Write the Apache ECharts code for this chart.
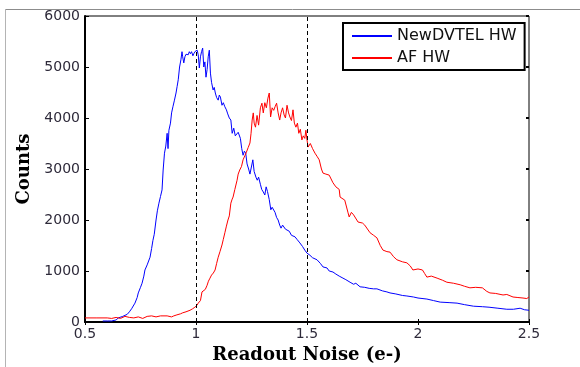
<!DOCTYPE html>
<html>
<head>
<meta charset="utf-8">
<script src="https://cdn.jsdelivr.net/npm/echarts@6/dist/echarts.min.js"></script>
<style>
	html, body { margin: 0; padding: 0; background: #fff; }
	#main { width: 580px; height: 367px; }
</style>
</head>
<body>
<div id="main"></div>
<script>
// readout noise histogram, [noise (e-), counts]
var newDvtel = [
	[0.58, 20], [0.6, 20], [0.62, 20], [0.64, 40], [0.65, 80], [0.67, 110], [0.69, 150], [0.70, 200],
	[0.71, 260], [0.725, 370], [0.735, 480], [0.74, 570], [0.75, 680], [0.757, 760], [0.765, 900],
	[0.77, 1020], [0.78, 1120], [0.793, 1270], [0.8, 1440], [0.806, 1600], [0.812, 1720], [0.82, 2000],
	[0.826, 2180], [0.833, 2330], [0.84, 2460], [0.847, 2590], [0.852, 2980], [0.858, 3310], [0.864, 3450],
	[0.87, 3700], [0.874, 3400], [0.878, 3760], [0.885, 3900], [0.89, 4100], [0.896, 4220], [0.903, 4350],
	[0.91, 4490], [0.915, 4620], [0.92, 4750], [0.926, 5000], [0.932, 5140], [0.937, 5300], [0.94, 5200],
	[0.945, 5080], [0.95, 5200], [0.955, 5250], [0.96, 5270], [0.965, 5240], [0.97, 5300], [0.975, 5260],
	[0.98, 5300], [0.986, 5220], [0.99, 5260], [0.995, 5300], [1.0, 5280], [1.005, 5330], [1.01, 5240],
	[1.015, 4980], [1.02, 5200], [1.025, 5300], [1.03, 5370], [1.035, 5000], [1.04, 5100], [1.045, 4800],
	[1.05, 4950], [1.055, 5200], [1.06, 5330], [1.065, 4880], [1.07, 4700], [1.077, 4550], [1.082, 4600],
	[1.087, 4490], [1.093, 4400], [1.1, 4350], [1.105, 4450], [1.11, 4410], [1.117, 4250], [1.123, 4300],
	[1.13, 4220], [1.137, 4160], [1.143, 4080], [1.15, 4000], [1.157, 3960], [1.163, 3700], [1.17, 3800],
	[1.177, 3650], [1.185, 3630], [1.19, 3720], [1.195, 3700], [1.2, 3600], [1.206, 3400], [1.212, 3270],
	[1.218, 3350], [1.224, 3310], [1.23, 3100], [1.237, 3000], [1.243, 2900], [1.25, 2920], [1.256, 3180],
	[1.262, 2950], [1.27, 2840], [1.276, 2780], [1.282, 2840], [1.29, 2700], [1.296, 2600], [1.303, 2550],
	[1.31, 2490], [1.316, 2650], [1.322, 2560], [1.33, 2400], [1.337, 2200], [1.343, 2250], [1.35, 2240],
	[1.356, 2150], [1.363, 2050], [1.37, 2000], [1.377, 1900], [1.383, 1840], [1.39, 1900], [1.396, 1870],
	[1.403, 1820], [1.41, 1800], [1.42, 1780], [1.43, 1700], [1.446, 1670], [1.455, 1620], [1.468, 1550],
	[1.48, 1480], [1.49, 1410], [1.5, 1350], [1.513, 1310], [1.525, 1260], [1.545, 1220], [1.56, 1150],
	[1.572, 1080], [1.59, 1060], [1.6, 1000], [1.617, 980], [1.63, 940], [1.645, 900], [1.662, 860],
	[1.675, 830], [1.694, 780], [1.71, 740], [1.72, 760], [1.739, 690], [1.76, 680], [1.78, 660],
	[1.8, 650], [1.815, 650], [1.84, 610], [1.86, 590], [1.874, 570], [1.9, 550], [1.93, 520], [1.95, 510],
	[1.98, 490], [2.0, 470], [2.04, 450], [2.07, 420], [2.1, 390], [2.14, 380], [2.176, 370], [2.21, 340],
	[2.25, 310], [2.29, 300], [2.32, 290], [2.36, 270], [2.4, 250], [2.43, 250], [2.46, 270], [2.48, 240],
	[2.5, 230]
];
var afHw = [
	[0.5, 80], [0.55, 80], [0.6, 80], [0.62, 70], [0.64, 90], [0.66, 70], [0.68, 110], [0.7, 90],
	[0.72, 80], [0.74, 100], [0.76, 70], [0.78, 110], [0.8, 120], [0.82, 100], [0.84, 120], [0.87, 120],
	[0.89, 100], [0.9, 120], [0.914, 140], [0.93, 160], [0.94, 180], [0.955, 200], [0.973, 230],
	[0.985, 260], [0.995, 290], [1.005, 330], [1.01, 370], [1.02, 420], [1.027, 590], [1.035, 620],
	[1.042, 640], [1.05, 720], [1.056, 800], [1.063, 860], [1.07, 920], [1.078, 960], [1.086, 1020],
	[1.093, 1150], [1.1, 1270], [1.108, 1380], [1.117, 1510], [1.123, 1620], [1.13, 1750], [1.137, 1880],
	[1.144, 2000], [1.15, 2080], [1.157, 2330], [1.163, 2410], [1.167, 2450], [1.175, 2600], [1.185, 2780],
	[1.19, 2900], [1.197, 2980], [1.205, 3050], [1.212, 3180], [1.22, 3260], [1.227, 3330], [1.235, 3420],
	[1.243, 3510], [1.248, 3700], [1.253, 3960], [1.258, 4100], [1.262, 3900], [1.268, 3820], [1.275, 4050],
	[1.282, 3860], [1.29, 4200], [1.297, 4290], [1.303, 4100], [1.31, 4300], [1.317, 4200], [1.324, 4390],
	[1.33, 4490], [1.336, 4020], [1.343, 4200], [1.35, 4150], [1.356, 4220], [1.363, 4290], [1.37, 4100],
	[1.377, 3960], [1.383, 4100], [1.39, 4200], [1.397, 4060], [1.403, 4000], [1.41, 4250], [1.417, 4100],
	[1.423, 4020], [1.43, 3950], [1.437, 4160], [1.443, 3900], [1.45, 3820], [1.457, 3900], [1.463, 3700],
	[1.47, 3780], [1.477, 3570], [1.483, 3650], [1.49, 3600], [1.495, 3760], [1.5, 3570], [1.505, 3430],
	[1.515, 3500], [1.525, 3400], [1.536, 3310], [1.545, 3250], [1.555, 3180], [1.565, 3000], [1.572, 2920],
	[1.585, 2900], [1.6, 2880], [1.617, 2730], [1.63, 2650], [1.645, 2600], [1.649, 2450], [1.658, 2430],
	[1.67, 2390], [1.685, 2140], [1.69, 2060], [1.7, 2150], [1.71, 2100], [1.73, 1960], [1.75, 1940],
	[1.76, 1900], [1.784, 1750], [1.8, 1700], [1.815, 1650], [1.83, 1500], [1.842, 1410], [1.86, 1380],
	[1.874, 1370], [1.89, 1280], [1.905, 1220], [1.93, 1180], [1.95, 1160], [1.965, 1100], [1.977, 1020],
	[2.0, 1040], [2.02, 1020], [2.03, 950], [2.04, 880], [2.06, 900], [2.086, 860], [2.11, 820],
	[2.13, 780], [2.16, 760], [2.19, 730], [2.21, 700], [2.234, 670], [2.26, 680], [2.29, 670],
	[2.31, 600], [2.324, 570], [2.35, 560], [2.383, 530], [2.4, 540], [2.428, 490], [2.45, 480],
	[2.473, 470], [2.49, 460], [2.5, 490]
];
var seriesNames = ["NewDVTEL HW", "AF HW"];
var markerX = [1, 1.5];

var myChart = echarts.init(document.getElementById("main"));

var labelFont = {
	color: '#2e2a3a',
	fontFamily: 'DejaVu Sans',
	fontSize: 14
};
var nameFont = {
	color: '#000',
	fontFamily: 'DejaVu Serif',
	fontWeight: 'bold',
	fontSize: 18
};
var plain = function (v) { return String(v); };

var option = {
	animation: false,
	backgroundColor: '#fff',
	graphic: [
		{ type: 'line', shape: { x1: 5, y1: 9.5, x2: 580, y2: 9.5 }, style: { stroke: '#8c8c8c', lineWidth: 1 } },
		{ type: 'line', shape: { x1: 5.5, y1: 9, x2: 5.5, y2: 367 }, style: { stroke: '#b4b4b4', lineWidth: 1 } }
	],
	grid: {
		left: 85,
		right: 51,
		top: 16,
		bottom: 45,
		outerBoundsMode: 'none',
		show: true,
		borderColor: '#000',
		borderWidth: 1
	},
	legend: {
		orient: 'vertical',
		left: 343,
		top: 23,
		padding: [5, 8, 4, 8],
		itemGap: 6,
		itemWidth: 40,
		itemHeight: 14,
		borderColor: '#000',
		borderWidth: 2,
		backgroundColor: '#fff',
		lineStyle: { width: 2 },
		itemStyle: { opacity: 0 },
		textStyle: {
			color: '#111',
			fontFamily: 'DejaVu Sans',
			fontSize: 16,
			lineHeight: 16
		},
		data: seriesNames
	},
	xAxis: [
		{
			type: 'value',
			min: 0.5,
			max: 2.5,
			interval: 0.5,
			name: 'Readout Noise (e-)',
			nameLocation: 'middle',
			nameGap: 22,
			nameTextStyle: nameFont,
			axisLine: { show: true, onZero: false, lineStyle: { color: '#000', width: 2 } },
			axisTick: { show: true, inside: true, length: 3, lineStyle: { color: '#000' } },
			axisLabel: Object.assign({ margin: 5, formatter: plain }, labelFont),
			splitLine: { show: false }
		},
		{
			type: 'value',
			position: 'top',
			min: 0.5,
			max: 2.5,
			interval: 0.5,
			axisLine: { show: false },
			axisTick: { show: true, inside: true, length: 3, lineStyle: { color: '#000' } },
			axisLabel: { show: false },
			splitLine: { show: false }
		}
	],
	yAxis: [
		{
			type: 'value',
			min: 0,
			max: 6000,
			interval: 1000,
			name: 'Counts',
			nameLocation: 'middle',
			nameGap: 50,
			nameTextStyle: nameFont,
			axisLine: { show: true, onZero: false, lineStyle: { color: '#000', width: 2 } },
			axisTick: { show: true, inside: true, length: 4, lineStyle: { color: '#000' } },
			axisLabel: Object.assign({ margin: 5, formatter: plain }, labelFont),
			splitLine: { show: false }
		},
		{
			type: 'value',
			position: 'right',
			min: 0,
			max: 6000,
			interval: 1000,
			axisLine: { show: false },
			axisTick: { show: true, inside: true, length: 3, lineStyle: { color: '#000', width: 2 } },
			axisLabel: { show: false },
			splitLine: { show: false }
		}
	],
	series: [
		{
			name: seriesNames[0],
			type: 'line',
			data: newDvtel,
			symbol: 'none',
			lineStyle: { color: '#0000ff', width: 1 },
			itemStyle: { color: '#0000ff' },
			markLine: {
				silent: true,
				symbol: ['none', 'none'],
				label: { show: false },
				lineStyle: { color: '#000', type: [4, 3], width: 1 },
				data: markerX.map(function (v) { return { xAxis: v }; })
			}
		},
		{
			name: seriesNames[1],
			type: 'line',
			data: afHw,
			symbol: 'none',
			lineStyle: { color: '#ff0000', width: 1 },
			itemStyle: { color: '#ff0000' }
		}
	]
};

myChart.setOption(option);
</script>
</body>
</html>
